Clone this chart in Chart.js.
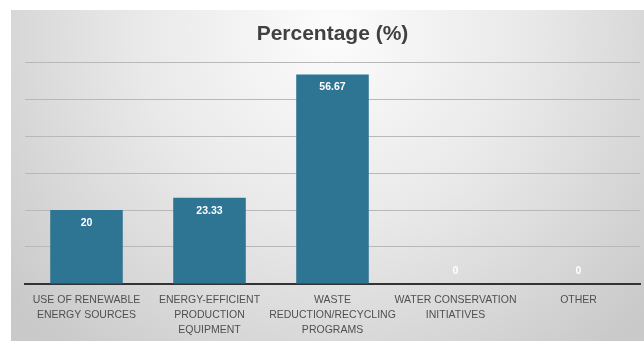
<!DOCTYPE html>
<html>
<head>
<meta charset="utf-8">
<script src="https://cdn.jsdelivr.net/npm/chart.js@4"></script>
<style>
  html, body { margin: 0; padding: 0; background: #ffffff; }
  #wrap { width: 644px; height: 341px; }
</style>
</head>
<body>
<div id="wrap"><canvas id="chart" width="644" height="341"></canvas></div>
<script>
// Share of respondents per sustainability practice
const categories = [
  ["USE OF RENEWABLE", "ENERGY SOURCES"],
  ["ENERGY-EFFICIENT", "PRODUCTION", "EQUIPMENT"],
  ["WASTE", "REDUCTION/RECYCLING", "PROGRAMS"],
  ["WATER CONSERVATION", "INITIATIVES"],
  ["OTHER"]
];
const percentages = [20, 23.33, 56.67, 0, 0];
const yTicks = [0, 10, 20, 30, 40, 50, 60];
const chartTitle = "Percentage (%)";

// Soft grey panel behind the plot
const panelBackground = {
  id: "panelBackground",
  beforeDraw(chart) {
    const ctx = chart.ctx;
    ctx.save();
    ctx.fillStyle = "#ffffff";
    ctx.fillRect(0, 0, chart.width, chart.height);
    const g = ctx.createRadialGradient(333, 30, 10, 333, 30, 420);
    g.addColorStop(0, "#fbfbfb");
    g.addColorStop(0.45, "#e9e9e9");
    g.addColorStop(1, "#c9c9c9");
    ctx.fillStyle = g;
    ctx.fillRect(11, 10, chart.width - 11, chart.height - 10);
    ctx.restore();
  }
};

// Value labels inside the top of each bar
const valueLabels = {
  id: "valueLabels",
  afterDatasetsDraw(chart) {
    const ctx = chart.ctx;
    const meta = chart.getDatasetMeta(0);
    ctx.save();
    ctx.font = "bold 10.5px 'Liberation Sans', Arial, sans-serif";
    ctx.fillStyle = "#ffffff";
    ctx.textAlign = "center";
    ctx.textBaseline = "middle";
    meta.data.forEach((bar, i) => {
      const v = percentages[i];
      const y = v > 0 ? bar.y + 13 : bar.base - 13;
      ctx.fillText(String(v), bar.x, y);
    });
    ctx.restore();
  }
};

new Chart(document.getElementById("chart"), {
  type: "bar",
  data: {
    labels: categories,
    datasets: [{
      data: percentages,
      backgroundColor: "#2e7493",
      borderWidth: 0,
      categoryPercentage: 1,
      barPercentage: 0.59
    }]
  },
  options: {
    responsive: false,
    animation: false,
    layout: { padding: { left: 25, right: 4, top: 0, bottom: -6 } },
    plugins: {
      legend: { display: false },
      tooltip: { enabled: false },
      title: {
        display: true,
        text: chartTitle,
        color: "#404040",
        font: { family: "'Liberation Sans', Arial, sans-serif", size: 21, weight: "bold" },
        padding: { top: 22, bottom: 15 }
      }
    },
    scales: {
      x: {
        grid: { display: false, drawTicks: false },
        border: { display: true, color: "#333333", width: 2 },
        ticks: {
          color: "#505050",
          padding: 9,
          maxRotation: 0,
          autoSkip: false,
          font: { family: "'Liberation Sans', Arial, sans-serif", size: 10.5, lineHeight: 1.43 }
        }
      },
      y: {
        min: 0,
        max: 60,
        afterBuildTicks(axis) { axis.ticks = yTicks.map(v => ({ value: v })); },
        ticks: { display: false },
        grid: { color: "#b8b8b8", lineWidth: 1, drawTicks: false },
        border: { display: false }
      }
    }
  },
  plugins: [panelBackground, valueLabels]
});
</script>
</body>
</html>
